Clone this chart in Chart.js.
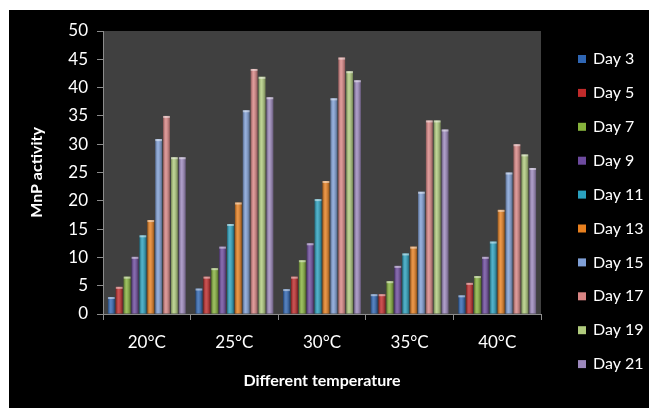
<!DOCTYPE html>
<html lang="en">
<head>
  <meta charset="UTF-8">
  <title>MnP activity</title>
  <script src="https://cdn.jsdelivr.net/npm/chart.js"></script>
  <style>
    body { margin:0; background:#fff; }
    #wrap { position:absolute; left:9px; top:10px; width:640px; height:398px; background:#000; }
  </style>
</head>
<body>
  <div id="wrap"><canvas id="c" width="640" height="398"></canvas></div>
  <script>
    const temps = ['20°C','25°C','30°C','35°C','40°C'];
    const days = ['Day 3','Day 5','Day 7','Day 9','Day 11','Day 13','Day 15','Day 17','Day 19','Day 21'];
    const day3  = [3.0, 4.5, 4.4, 3.5, 3.3];
    const day5  = [4.8, 6.6, 6.6, 3.5, 5.5];
    const day7  = [6.6, 8.1, 9.5, 5.8, 6.7];
    const day9  = [10.1, 11.9, 12.5, 8.5, 10.1];
    const day11 = [13.9, 15.9, 20.3, 10.7, 12.8];
    const day13 = [16.6, 19.7, 23.5, 11.9, 18.4];
    const day15 = [30.9, 36.0, 38.1, 21.6, 25.0];
    const day17 = [35.0, 43.3, 45.3, 34.2, 30.0];
    const day19 = [27.7, 41.9, 42.9, 34.2, 28.2];
    const day21 = [27.7, 38.3, 41.3, 32.6, 25.8];
    const colors = ['#2f66b3','#c02a2a','#86b23c','#6d4a9e','#2aa1bf','#e8801f','#7f9fd6','#d98584','#b0cb7d','#9c88bd'];

    const series = [day3, day5, day7, day9, day11, day13, day15, day17, day19, day21];
    const FONT = 'Lato, "Open Sans", sans-serif';

    const plotBg = {
      id: 'plotBg',
      beforeDraw(chart) {
        const a = chart.chartArea, ctx = chart.ctx;
        ctx.save();
        ctx.fillStyle = '#404040';
        ctx.fillRect(a.left, a.top, a.right - a.left, a.bottom - a.top);
        ctx.restore();
      }
    };

    // cylinder-like shading on every bar
    const shade = {
      id: 'shade',
      afterDatasetsDraw(chart) {
        const ctx = chart.ctx;
        ctx.save();
        chart.data.datasets.forEach((ds, i) => {
          chart.getDatasetMeta(i).data.forEach(el => {
            const l = el.x - el.width / 2, w = el.width;
            const g = ctx.createLinearGradient(l, 0, l + w, 0);
            g.addColorStop(0, 'rgba(0,0,0,0.35)');
            g.addColorStop(0.4, 'rgba(255,255,255,0.18)');
            g.addColorStop(1, 'rgba(0,0,0,0.35)');
            ctx.fillStyle = g;
            ctx.fillRect(l, el.y, w, el.base - el.y);
            ctx.fillStyle = 'rgba(255,255,255,0.45)';
            ctx.fillRect(l, el.y, w, 2);
          });
        });
        ctx.restore();
      }
    };

    const legend = {
      id: 'sideLegend',
      afterDraw(chart) {
        const ctx = chart.ctx;
        ctx.save();
        ctx.font = '16px ' + FONT;
        ctx.textBaseline = 'middle';
        chart.data.datasets.forEach((ds, i) => {
          const y = 49 + i * 33.9;
          ctx.fillStyle = ds.backgroundColor;
          ctx.fillRect(569, y - 4, 8, 8);
          ctx.fillStyle = '#fff';
          ctx.fillText(ds.label, 584, y);
        });
        ctx.restore();
      }
    };

    new Chart(document.getElementById('c'), {
      type: 'bar',
      data: {
        labels: temps,
        datasets: days.map((d, i) => ({
          label: d, data: series[i], backgroundColor: colors[i],
          categoryPercentage: 0.9, barPercentage: 0.86
        }))
      },
      options: {
        responsive: false,
        animation: false,
        layout: { padding: { left: 0, top: 21, right: 108, bottom: 0 } },
        plugins: { legend: { display: false }, tooltip: { enabled: false } },
        scales: {
          x: {
            afterFit(s) { s.height = 94; },
            grid: { display: true, drawOnChartArea: false, offset: true, tickLength: 6, color: '#8c8c8c' },
            border: { color: '#8c8c8c' },
            ticks: { color: '#fff', font: { family: FONT, size: 17 }, padding: 12 },
            title: { display: true, text: 'Different temperature', color: '#fff',
                     font: { family: FONT, size: 16, weight: 'bold' }, padding: { top: 0, bottom: 18 } }
          },
          y: {
            min: 0, max: 50,
            afterFit(s) { s.width = 94; },
            grid: { display: true, drawOnChartArea: false, tickLength: 6, color: '#8c8c8c' },
            border: { color: '#8c8c8c' },
            ticks: { stepSize: 5, color: '#fff', font: { family: FONT, size: 17 }, padding: 9 },
            title: { display: true, text: 'MnP activity', color: '#fff',
                     font: { family: FONT, size: 16, weight: 'bold' }, padding: { top: 18, bottom: 0 } }
          }
        }
      },
      plugins: [plotBg, shade, legend]
    });
  </script>
</body>
</html>
